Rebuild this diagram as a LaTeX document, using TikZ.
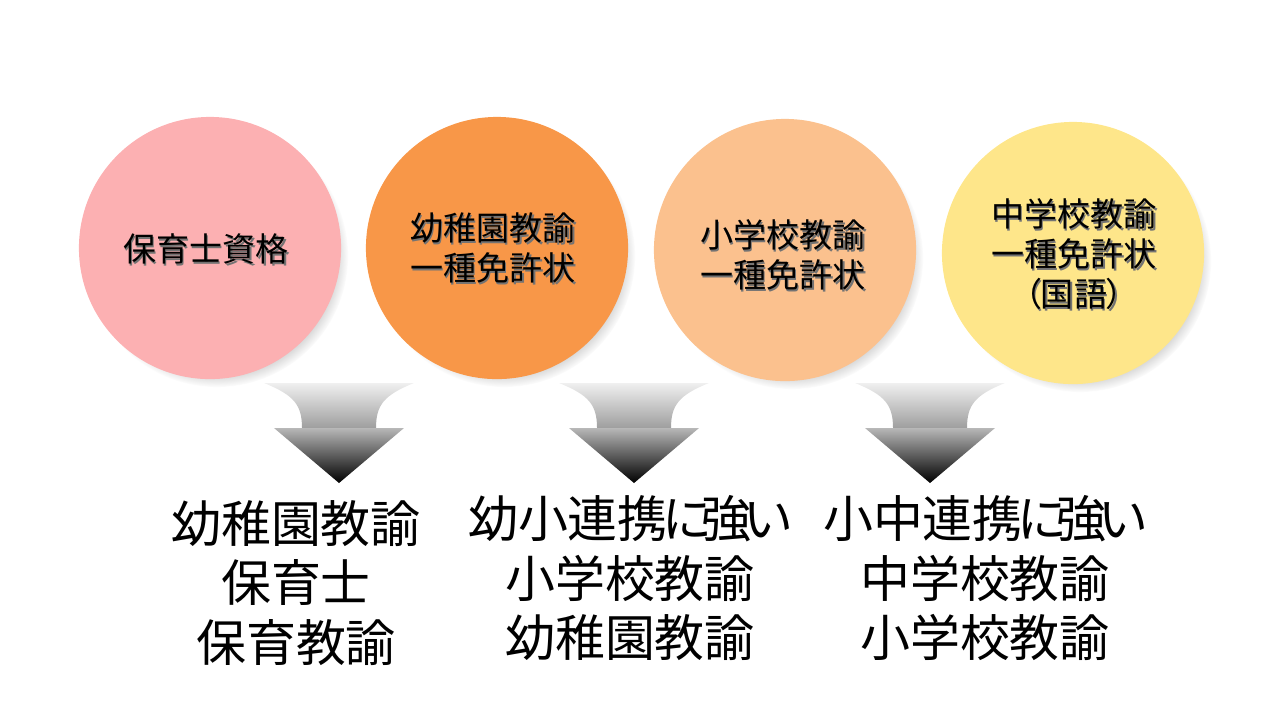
\documentclass[tikz,border=0pt]{standalone}
\usepackage{fontspec}
\setmainfont{Noto Sans CJK JP}[RawFeature=+palt]
\usetikzlibrary{shadows}

\definecolor{hoiku}{RGB}{252,176,178}
\definecolor{youchi}{RGB}{248,151,72}
\definecolor{shou}{RGB}{251,193,142}
\definecolor{chuu}{RGB}{254,230,138}

\begin{document}
\begin{tikzpicture}[x=0.01cm, y=-0.01cm,
  menkyo/.style={circle, minimum size=2.62cm, inner sep=0pt,
    circular drop shadow={shadow xshift=0.7mm, shadow yshift=-0.8mm,
      shadow scale=1.0, opacity=0.5}},
  midashi/.style={align=center, inner sep=0pt,
    font=\fontsize{9.4pt}{11.3pt}\selectfont},
  kage/.style={midashi, text=black!55, xshift=0.15mm, yshift=-0.2mm},
  kekka/.style={align=center, inner sep=0pt,
    font=\fontsize{14.2pt}{17pt}\selectfont},
  yajirushi/.pic={
    \shade[top color=black!6, bottom color=black!38]
      (-75,383) -- (75,383) .. controls (45,395) and (37,405) .. (37,428)
      -- (-37,428) .. controls (-37,405) and (-45,395) .. (-75,383) -- cycle;
    \shade[top color=black!28, middle color=black!45, bottom color=black]
      (-65,428) -- (65,428) -- (0,483) -- cycle;
  }]
  \useasboundingbox (0,0) rectangle (1280,720);

  % 矢印
  \pic at (339,0) {yajirushi};
  \pic at (634,0) {yajirushi};
  \pic at (930,0) {yajirushi};

  % 資格・免許状
  \node[menkyo, fill=hoiku] (c1) at (210,248) {};
  \node[menkyo, fill=youchi] (c2) at (497,248) {};
  \node[menkyo, fill=shou] (c3) at (785,250) {};
  \node[menkyo, fill=chuu] (c4) at (1073,253) {};

  \node[kage] at (206,249) {保育士資格};
  \node[midashi] (t1) at (206,249) {保育士資格};
  \node[kage] at (493,248) {幼稚園教諭\\一種免許状};
  \node[midashi] (t2) at (493,248) {幼稚園教諭\\一種免許状};
  \node[kage] at (783,255) {小学校教諭\\一種免許状};
  \node[midashi] (t3) at (783,255) {小学校教諭\\一種免許状};
  \node[kage] at (1074,254) {中学校教諭\\一種免許状\\（国語）};
  \node[midashi] (t4) at (1074,254) {中学校教諭\\一種免許状\\（国語）};

  % なれる職
  \node[kekka] (k1) at (296,583) {幼稚園教諭\\保育士\\保育教諭};
  \node[kekka] (k2) at (630,578)
    {幼小連携\kern-1.5ptに\kern-2.5pt強\kern-2ptい\\小学校教諭\\幼稚園教諭};
  \node[kekka] (k3) at (985,578)
    {小中連携\kern-1.5ptに\kern-2.5pt強\kern-2ptい\\中学校教諭\\小学校教諭};
\end{tikzpicture}
\end{document}
